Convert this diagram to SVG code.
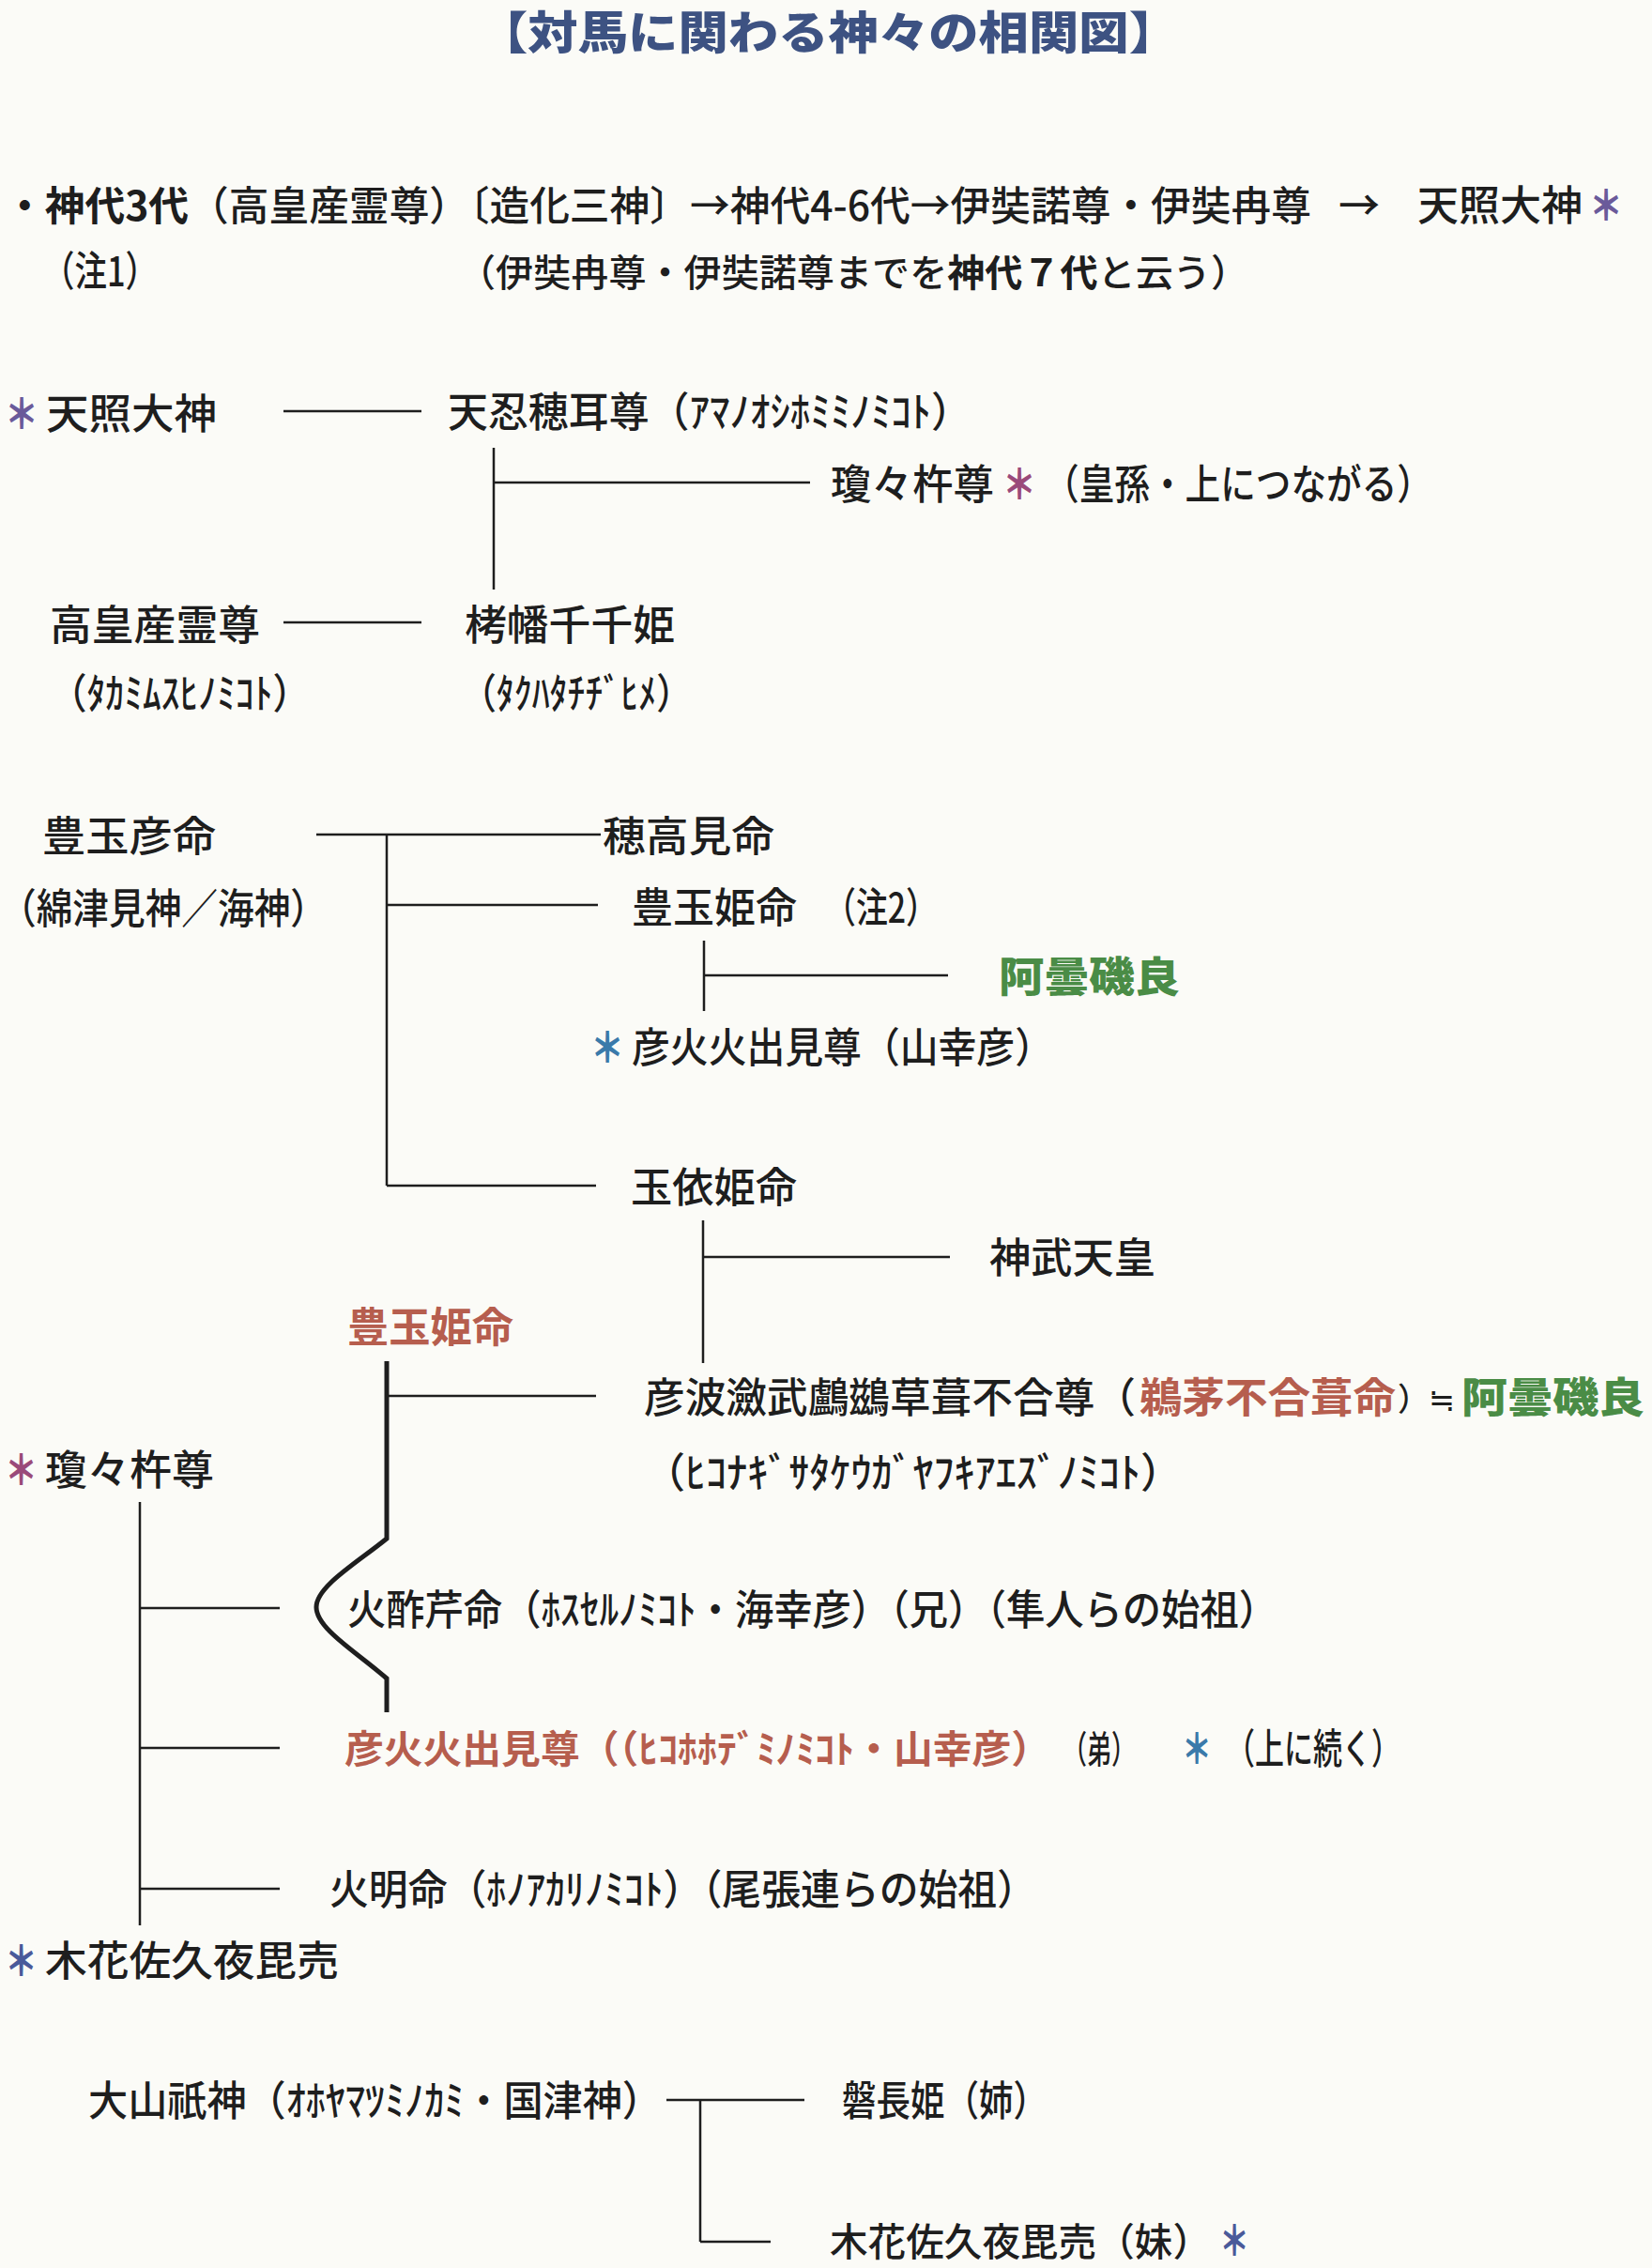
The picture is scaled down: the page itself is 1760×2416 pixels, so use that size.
<svg xmlns="http://www.w3.org/2000/svg" width="1760" height="2416" viewBox="0 0 1760 2416">
<style>
text{font-family:"Noto Sans CJK JP","Noto Sans CJK SC",sans-serif;font-size:44px;fill:#1e1e1e;font-weight:500}
.b{font-weight:700}
.s40{font-size:40px}
.title{font-size:48px;font-weight:900;fill:#3d5282}
.red{fill:#b65e4e;font-weight:700}
.grn{fill:#4a8c46;font-weight:900}
.ast{font-weight:900}
.ap{fill:#6a5a9a}
.am{fill:#9a4a7a}
.at{fill:#3a7aaa}
.ab{fill:#4a5a9a}
.ln{stroke:#1e1e1e;stroke-width:2.5;fill:none}
.bl{stroke:#1e1e1e;stroke-width:5;fill:none}
</style>
<rect width="1760" height="2416" fill="#fbfbf7"/>
<g id="title"><text class="title" x="509" y="52" textLength="747" lengthAdjust="spacingAndGlyphs">【対馬に関わる神々の相関図】</text></g>
<g id="intro">
<text style="font-size:43px" x="5" y="235" textLength="1392" lengthAdjust="spacingAndGlyphs"><tspan class="b">・神代3代</tspan>（高皇産霊尊）〔造化三神〕→神代4-6代→伊奘諾尊・伊奘冉尊</text>
<text x="1426" y="235" textLength="44" lengthAdjust="spacingAndGlyphs">→</text>
<text x="1510" y="235" textLength="176" lengthAdjust="spacingAndGlyphs">天照大神</text>
<text class="ast ap" x="1693" y="235" textLength="36" lengthAdjust="spacingAndGlyphs">＊</text>
<text x="45" y="305" textLength="123" lengthAdjust="spacingAndGlyphs">（注1）</text>
<text class="s40" x="488" y="305" textLength="842" lengthAdjust="spacingAndGlyphs">（伊奘冉尊・伊奘諾尊までを<tspan class="b">神代７代</tspan>と云う）</text>
</g>
<g id="connectors">
<line class="ln" x1="302" y1="438" x2="449" y2="438"/>
<line class="ln" x1="526" y1="477" x2="526" y2="628"/>
<line class="ln" x1="526" y1="514" x2="863" y2="514"/>
<line class="ln" x1="302" y1="663" x2="449" y2="663"/>
<line class="ln" x1="337" y1="889" x2="640" y2="889"/>
<line class="ln" x1="412" y1="889" x2="412" y2="1263"/>
<line class="ln" x1="412" y1="964" x2="637" y2="964"/>
<line class="ln" x1="412" y1="1263" x2="635" y2="1263"/>
<line class="ln" x1="750" y1="1002" x2="750" y2="1077"/>
<line class="ln" x1="750" y1="1039" x2="1010" y2="1039"/>
<line class="ln" x1="749" y1="1300" x2="749" y2="1452"/>
<line class="ln" x1="749" y1="1339" x2="1012" y2="1339"/>
<path class="bl" d="M412,1450 V1639 C380,1665 337,1690 337,1712 C337,1735 380,1760 412,1788 V1824"/>
<line class="ln" x1="412" y1="1487" x2="635" y2="1487"/>
<line class="ln" x1="149" y1="1600" x2="149" y2="2051"/>
<line class="ln" x1="149" y1="1713" x2="298" y2="1713"/>
<line class="ln" x1="149" y1="1862" x2="298" y2="1862"/>
<line class="ln" x1="149" y1="2012" x2="298" y2="2012"/>
<line class="ln" x1="710" y1="2237" x2="857" y2="2237"/>
<line class="ln" x1="746" y1="2237" x2="746" y2="2388"/>
<line class="ln" x1="746" y1="2388" x2="821" y2="2388"/>
</g>
<g id="amaterasu">
<text class="ast ap" x="5" y="457" textLength="36" lengthAdjust="spacingAndGlyphs">＊</text>
<text x="49" y="457" textLength="182" lengthAdjust="spacingAndGlyphs">天照大神</text>
</g>
<g id="oshihomimi"><text x="477" y="455" textLength="558" lengthAdjust="spacingAndGlyphs">天忍穂耳尊（ｱﾏﾉｵｼﾎﾐﾐﾉﾐｺﾄ）</text></g>
<g id="ninigi1">
<text x="885" y="532" textLength="174" lengthAdjust="spacingAndGlyphs">瓊々杵尊</text>
<text class="ast am" x="1068" y="532" textLength="36" lengthAdjust="spacingAndGlyphs">＊</text>
<text x="1112" y="532" textLength="414" lengthAdjust="spacingAndGlyphs">（皇孫・上につながる）</text>
</g>
<g id="takamimusubi"><text x="53" y="682" textLength="224" lengthAdjust="spacingAndGlyphs">高皇産霊尊</text>
<text x="53" y="755" textLength="277" lengthAdjust="spacingAndGlyphs">（ﾀｶﾐﾑｽﾋﾉﾐｺﾄ）</text></g>
<g id="takuhatachiji"><text x="495" y="682" textLength="224" lengthAdjust="spacingAndGlyphs">栲幡千千姫</text>
<text x="491" y="755" textLength="246" lengthAdjust="spacingAndGlyphs">（ﾀｸﾊﾀﾁﾁﾞﾋﾒ）</text></g>
<g id="toyotamahiko"><text x="45" y="907" textLength="185" lengthAdjust="spacingAndGlyphs">豊玉彦命</text>
<text x="0" y="984" textLength="348" lengthAdjust="spacingAndGlyphs">（綿津見神／海神）</text></g>
<g id="hotakami"><text x="642" y="907" textLength="183" lengthAdjust="spacingAndGlyphs">穂高見命</text></g>
<g id="toyotamahime"><text x="673" y="983" textLength="176" lengthAdjust="spacingAndGlyphs">豊玉姫命</text>
<text x="878" y="983" textLength="121" lengthAdjust="spacingAndGlyphs">（注2）</text></g>
<g id="azumi1"><text class="grn" x="1064" y="1057" textLength="193" lengthAdjust="spacingAndGlyphs">阿曇磯良</text></g>
<g id="hohodemi1">
<text class="ast at" x="629" y="1132" textLength="36" lengthAdjust="spacingAndGlyphs">＊</text>
<text x="673" y="1132" textLength="449" lengthAdjust="spacingAndGlyphs">彦火火出見尊（山幸彦）</text>
</g>
<g id="tamayorihime"><text x="672" y="1281" textLength="177" lengthAdjust="spacingAndGlyphs">玉依姫命</text></g>
<g id="jimmu"><text x="1054" y="1356" textLength="177" lengthAdjust="spacingAndGlyphs">神武天皇</text></g>
<g id="toyotamahime2"><text class="red" x="370" y="1430" textLength="177" lengthAdjust="spacingAndGlyphs">豊玉姫命</text></g>
<g id="ugayafukiaezu">
<text x="686" y="1505" textLength="524" lengthAdjust="spacingAndGlyphs">彦波瀲武鸕鷀草葺不合尊（</text>
<text class="red" x="1214" y="1505" textLength="273" lengthAdjust="spacingAndGlyphs">鵜茅不合葺命</text>
<text style="font-size:34px" x="1489" y="1503" textLength="62" lengthAdjust="spacingAndGlyphs">）≒</text>
<text class="grn" x="1557" y="1505" textLength="195" lengthAdjust="spacingAndGlyphs">阿曇磯良</text>
<text x="686" y="1585" textLength="573" lengthAdjust="spacingAndGlyphs">（ﾋｺﾅｷﾞｻﾀｹｳｶﾞﾔﾌｷｱｴｽﾞﾉﾐｺﾄ）</text>
</g>
<g id="ninigi2">
<text class="ast am" x="5" y="1582" textLength="35" lengthAdjust="spacingAndGlyphs">＊</text>
<text x="48" y="1582" textLength="180" lengthAdjust="spacingAndGlyphs">瓊々杵尊</text>
</g>
<g id="hosuseri"><text x="370" y="1731" textLength="991" lengthAdjust="spacingAndGlyphs">火酢芹命（ﾎｽｾﾙﾉﾐｺﾄ・海幸彦）（兄）（隼人らの始祖）</text></g>
<g id="hohodemi2">
<text class="red" style="font-size:41px" x="367" y="1878" textLength="752" lengthAdjust="spacingAndGlyphs">彦火火出見尊（（ﾋｺﾎﾎﾃﾞﾐﾉﾐｺﾄ・山幸彦）</text>
<text class="s40" x="1132" y="1878" textLength="78" lengthAdjust="spacingAndGlyphs">（弟）</text>
<text class="ast at" x="1259" y="1879" textLength="32" lengthAdjust="spacingAndGlyphs">＊</text>
<text x="1306" y="1879" textLength="186" lengthAdjust="spacingAndGlyphs">（上に続く）</text>
</g>
<g id="hoakari"><text x="351" y="2029" textLength="753" lengthAdjust="spacingAndGlyphs">火明命（ﾎﾉｱｶﾘﾉﾐｺﾄ）（尾張連らの始祖）</text></g>
<g id="konohanasakuya1">
<text class="ast ab" x="5" y="2105" textLength="35" lengthAdjust="spacingAndGlyphs">＊</text>
<text x="48" y="2105" textLength="313" lengthAdjust="spacingAndGlyphs">木花佐久夜毘売</text>
</g>
<g id="oyamatsumi"><text x="94" y="2254" textLength="611" lengthAdjust="spacingAndGlyphs">大山祇神（ｵﾎﾔﾏﾂﾐﾉｶﾐ・国津神）</text></g>
<g id="iwanagahime"><text x="897" y="2254" textLength="219" lengthAdjust="spacingAndGlyphs">磐長姫（姉）</text></g>
<g id="konohanasakuya2">
<text style="font-size:41px" x="884" y="2403" textLength="406" lengthAdjust="spacingAndGlyphs">木花佐久夜毘売（妹）</text>
<text class="ast ab" x="1299" y="2403" textLength="32" lengthAdjust="spacingAndGlyphs">＊</text>
</g>
</svg>
